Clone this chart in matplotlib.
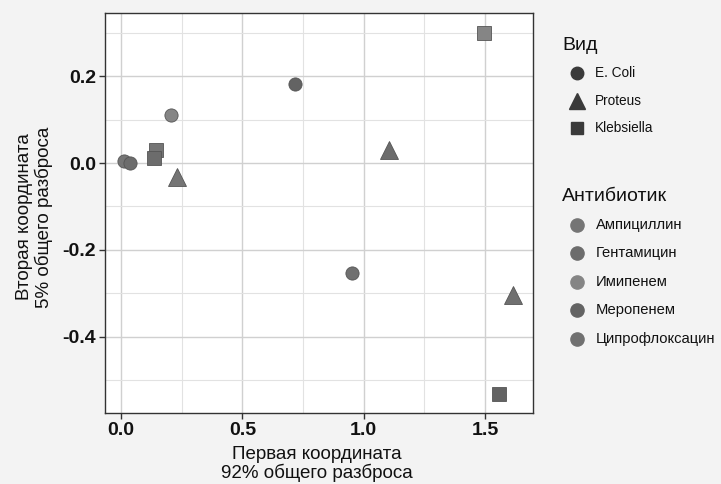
import matplotlib
matplotlib.use("Agg")
import matplotlib.pyplot as plt
from matplotlib.lines import Line2D
from matplotlib.ticker import MultipleLocator

plt.rcParams['font.family'] = ['Liberation Sans', 'DejaVu Sans']
plt.rcParams['axes.unicode_minus'] = False

# Data
species = ["E. Coli", "E. Coli", "E. Coli", "E. Coli", "E. Coli",
           "Proteus", "Proteus", "Proteus",
           "Klebsiella", "Klebsiella", "Klebsiella", "Klebsiella"]
antibiotic = ["Ампициллин", "Гентамицин", "Имипенем", "Меропенем", "Ципрофлоксацин",
              "Ампициллин", "Гентамицин", "Ципрофлоксацин",
              "Ампициллин", "Гентамицин", "Имипенем", "Меропенем"]
coord1 = [0.012, 0.037, 0.206, 0.717, 0.952,
          0.231, 1.104, 1.615,
          0.144, 0.136, 1.496, 1.558]
coord2 = [0.005, 0.000, 0.110, 0.182, -0.253,
          -0.032, 0.030, -0.303,
          0.030, 0.011, 0.299, -0.531]

species_levels = ["E. Coli", "Proteus", "Klebsiella"]
species_markers = {"E. Coli": "o", "Proteus": "^", "Klebsiella": "s"}
antibiotic_levels = ["Ампициллин", "Гентамицин", "Имипенем", "Меропенем", "Ципрофлоксацин"]
antibiotic_colors = {"Ампициллин": "#757575", "Гентамицин": "#6c6c6c", "Имипенем": "#858585",
                     "Меропенем": "#636363", "Ципрофлоксацин": "#707070"}
marker_sizes = {"o": 9.5, "^": 12.5, "s": 10}

W, H = 721, 484
fig = plt.figure(figsize=(W / 100, H / 100), dpi=100, facecolor="#f3f3f3")
ax = fig.add_axes([105 / W, 1 - 413 / H, (533 - 105) / W, (413 - 13) / H])
ax.set_facecolor("white")

for x, y, s, a in zip(coord1, coord2, species, antibiotic):
    m = species_markers[s]
    ax.plot([x], [y], marker=m, color=antibiotic_colors[a],
            markersize=marker_sizes[m], markeredgecolor="#555555", markeredgewidth=0.6,
            linestyle="none", zorder=3)

ax.set_xlim(-0.066, 1.698)
ax.set_ylim(-0.575, 0.345)
ax.xaxis.set_minor_locator(MultipleLocator(0.25))
ax.yaxis.set_minor_locator(MultipleLocator(0.1))
ax.set_xticks([0.0, 0.5, 1.0, 1.5])
ax.set_xticklabels(["0.0", "0.5", "1.0", "1.5"])
ax.set_yticks([-0.4, -0.2, 0.0, 0.2])
ax.set_yticklabels(["-0.4", "-0.2", "0.0", "0.2"])
ax.grid(which="major", color="#d0d0d0", linewidth=1.0)
ax.grid(which="minor", color="#e2e2e2", linewidth=0.8)
ax.set_axisbelow(True)
for sp in ax.spines.values():
    sp.set_color("#333333")
    sp.set_linewidth(1.0)
ax.tick_params(which="major", length=4, width=1, color="#333333",
               labelsize=14, labelcolor="#111111", pad=2.5)
ax.tick_params(which="minor", length=0)
for lab in ax.get_xticklabels() + ax.get_yticklabels():
    lab.set_fontweight("bold")

ax.set_xlabel("Первая координата\n92% общего разброса", fontsize=13.5,
              color="#111111", linespacing=1.0)
ax.set_ylabel("Вторая координата\n5% общего разброса", fontsize=13.5,
              color="#111111", linespacing=1.1)
ax.xaxis.set_label_coords(0.496, -0.083)
ax.yaxis.set_label_coords(-0.122, 0.49)

# Legends (drawn in figure pixel coordinates)
def fx(px):
    return px / W

def fy(py):
    return 1 - py / H

fig.text(fx(562), fy(45), "Вид", fontsize=14, color="#111111", va="center", ha="left")
sp_rows = [73, 101, 128]
for s, yy in zip(species_levels, sp_rows):
    m = species_markers[s]
    fig.add_artist(Line2D([fx(577)], [fy(yy)], marker=m, color="#3a3a3a",
                          markersize={"o": 9, "^": 12, "s": 9}[m], linestyle="none",
                          transform=fig.transFigure))
    fig.text(fx(595), fy(yy), s, fontsize=9.8, color="#111111", va="center", ha="left")

fig.text(fx(562), fy(197), "Антибиотик", fontsize=14, color="#111111", va="center", ha="left")
ab_rows = [225, 253, 282, 310, 339]
for a, yy in zip(antibiotic_levels, ab_rows):
    fig.add_artist(Line2D([fx(577)], [fy(yy)], marker="o", color=antibiotic_colors[a],
                          markersize=9.5, linestyle="none", transform=fig.transFigure))
    fig.text(fx(596), fy(yy), a, fontsize=10.6, color="#111111", va="center", ha="left")

fig.savefig("out.png", dpi=100, facecolor=fig.get_facecolor())
